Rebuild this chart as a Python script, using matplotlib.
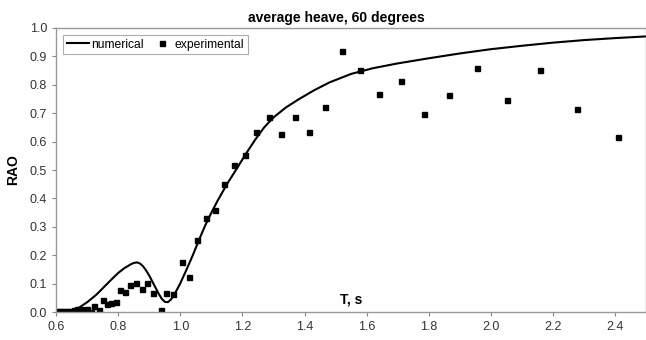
import matplotlib
matplotlib.use("Agg")
import matplotlib.pyplot as plt

plt.rcParams['font.family'] = ['Liberation Sans', 'DejaVu Sans']

# numerical curve
num_T = [0.60, 0.63, 0.65, 0.67, 0.70, 0.73, 0.76, 0.78, 0.80, 0.82, 0.84,
         0.85, 0.86, 0.87, 0.88, 0.89, 0.90, 0.91, 0.92, 0.93, 0.94, 0.95,
         0.96, 0.97, 0.98, 0.99, 1.00, 1.02, 1.04, 1.06, 1.08, 1.10, 1.12,
         1.15, 1.18, 1.21, 1.24, 1.27, 1.30, 1.34, 1.38, 1.43, 1.48, 1.55,
         1.62, 1.70, 1.80, 1.90, 2.00, 2.10, 2.20, 2.30, 2.40, 2.50]
num_rao = [0.000, 0.002, 0.005, 0.013, 0.035, 0.062, 0.095, 0.117, 0.138, 0.155, 0.168,
           0.173, 0.175, 0.171, 0.161, 0.146, 0.128, 0.107, 0.086, 0.065, 0.047, 0.036,
           0.035, 0.045, 0.061, 0.081, 0.102, 0.150, 0.200, 0.254, 0.305, 0.350, 0.392,
           0.450, 0.502, 0.555, 0.605, 0.650, 0.685, 0.720, 0.748, 0.780, 0.808, 0.838,
           0.858, 0.875, 0.893, 0.910, 0.925, 0.937, 0.948, 0.957, 0.964, 0.970]

# experimental points
exp_T = [0.602, 0.613, 0.623, 0.634, 0.645, 0.656, 0.668, 0.679, 0.690, 0.700,
         0.711, 0.723, 0.737, 0.750, 0.763, 0.777, 0.793, 0.805, 0.822, 0.838,
         0.857, 0.875, 0.891, 0.912, 0.936, 0.955, 0.977, 1.004, 1.028, 1.054,
         1.081, 1.110, 1.140, 1.174, 1.207, 1.244, 1.284, 1.325, 1.368, 1.415,
         1.466, 1.520, 1.578, 1.641, 1.710, 1.784, 1.865, 1.954, 2.051, 2.158,
         2.279, 2.411]
exp_rao = [0.003, 0.003, 0.003, 0.004, 0.005, 0.006, 0.010, 0.011, 0.007, 0.010,
           0.001, 0.021, 0.007, 0.042, 0.027, 0.031, 0.036, 0.077, 0.071, 0.095,
           0.103, 0.080, 0.101, 0.066, 0.006, 0.069, 0.062, 0.175, 0.124, 0.252,
           0.332, 0.359, 0.450, 0.518, 0.552, 0.634, 0.685, 0.628, 0.685, 0.635,
           0.721, 0.920, 0.853, 0.767, 0.813, 0.697, 0.764, 0.858, 0.746, 0.852,
           0.714, 0.616]

x_ticks = [0.6, 0.8, 1.0, 1.2, 1.4, 1.6, 1.8, 2.0, 2.2, 2.4]
y_ticks = [0.0, 0.1, 0.2, 0.3, 0.4, 0.5, 0.6, 0.7, 0.8, 0.9, 1.0]

fig = plt.figure(figsize=(6.46, 3.40), dpi=100)
ax = fig.add_axes([0.087, 0.082, 0.913, 0.836])

ax.plot(num_T, num_rao, color="black", lw=1.5, label="numerical")
ax.plot(exp_T, exp_rao, ls="none", marker="s", ms=3.6, color="black",
        label="experimental")

ax.set_xlim(0.6, 2.5)
ax.set_ylim(0.0, 1.0)
ax.set_xticks(x_ticks)
ax.set_yticks(y_ticks)
ax.set_xticklabels([f"{v:.1f}" for v in x_ticks])
ax.set_yticklabels([f"{v:.1f}" for v in y_ticks])
ax.tick_params(labelsize=9, colors="#888888", labelcolor="#333333",
               length=3, width=0.8)

for s in ax.spines.values():
    s.set_color("#999999")
    s.set_linewidth(1.0)

ax.text(0.5, 0.045, "T, s", transform=ax.transAxes, ha="center", va="center",
        fontsize=10, fontweight="bold")
ax.set_ylabel("RAO", fontsize=10, fontweight="bold", labelpad=7)
fig.text(0.52, 0.947, "average heave, 60 degrees", ha="center", va="center",
         fontsize=10, fontweight="bold")

leg = ax.legend(loc="upper left", bbox_to_anchor=(0.012, 0.975), ncol=2,
                fontsize=8.7, frameon=True, fancybox=False, edgecolor="#999999",
                handlelength=1.8, handletextpad=0.2, columnspacing=0.6,
                borderpad=0.3, borderaxespad=0, numpoints=1)
leg.get_frame().set_linewidth(0.8)

fig.savefig("out.png", dpi=100)
